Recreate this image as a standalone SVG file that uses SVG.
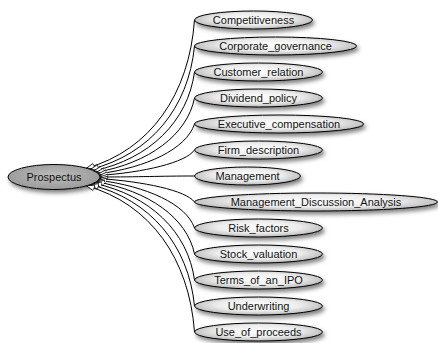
<svg xmlns="http://www.w3.org/2000/svg" width="438" height="343" viewBox="0 0 438 343">
<style>
.n ellipse{stroke:#000;stroke-width:1;filter:url(#sh)}
.leaf ellipse{fill:url(#g)}
.root ellipse{fill:url(#gr)}
text{font-family:"Liberation Sans",Arial,sans-serif;font-size:11px;fill:#111;text-anchor:middle}
.e path{fill:none;stroke:#000;stroke-width:1;marker-start:url(#ah)}
</style>
<defs>
<radialGradient id="g" cx="0.5" cy="0.45" r="0.55">
<stop offset="0" stop-color="#ffffff"/>
<stop offset="0.6" stop-color="#ececec"/>
<stop offset="1" stop-color="#b8b8b8"/>
</radialGradient>
<radialGradient id="gr" cx="0.5" cy="0.45" r="0.55">
<stop offset="0" stop-color="#bdbdbd"/>
<stop offset="1" stop-color="#9a9a9a"/>
</radialGradient>
<filter id="sh" x="-20%" y="-50%" width="140%" height="220%">
<feDropShadow dx="2" dy="3" stdDeviation="2" flood-color="#000" flood-opacity="0.5"/>
</filter>
<marker id="ah" markerUnits="userSpaceOnUse" markerWidth="10" markerHeight="8" refX="8" refY="3" orient="auto-start-reverse">
<path d="M0,0 L8,3 L0,6 z" fill="#fff" stroke="#000" stroke-width="0.8"/>
</marker>
</defs>
<g id="Prospectus" class="n root"><ellipse cx="54" cy="177" rx="46" ry="12.5"/><text x="54" y="181">Prospectus</text></g>
<g id="Competitiveness" class="n leaf"><ellipse cx="253.5" cy="20" rx="59" ry="9"/><text x="253.5" y="24">Competitiveness</text></g>
<g id="Corporate_governance" class="n leaf"><ellipse cx="275.5" cy="46" rx="81" ry="9"/><text x="275.5" y="50">Corporate_governance</text></g>
<g id="Customer_relation" class="n leaf"><ellipse cx="258.5" cy="72" rx="64" ry="9"/><text x="258.5" y="76">Customer_relation</text></g>
<g id="Dividend_policy" class="n leaf"><ellipse cx="258.5" cy="98" rx="64" ry="9"/><text x="258.5" y="102">Dividend_policy</text></g>
<g id="Executive_compensation" class="n leaf"><ellipse cx="279" cy="124" rx="84.5" ry="9"/><text x="279" y="128">Executive_compensation</text></g>
<g id="Firm_description" class="n leaf"><ellipse cx="258.5" cy="150" rx="64" ry="9"/><text x="258.5" y="154">Firm_description</text></g>
<g id="Management" class="n leaf"><ellipse cx="247.5" cy="176" rx="53" ry="9"/><text x="247.5" y="180">Management</text></g>
<g id="Management_Discussion_Analysis" class="n leaf"><ellipse cx="316" cy="202" rx="121.5" ry="9"/><text x="316" y="206">Management_Discussion_Analysis</text></g>
<g id="Risk_factors" class="n leaf"><ellipse cx="258.5" cy="228" rx="64" ry="9"/><text x="258.5" y="232">Risk_factors</text></g>
<g id="Stock_valuation" class="n leaf"><ellipse cx="258.5" cy="254" rx="64" ry="9"/><text x="258.5" y="258">Stock_valuation</text></g>
<g id="Terms_of_an_IPO" class="n leaf"><ellipse cx="258.5" cy="280" rx="64" ry="9"/><text x="258.5" y="284">Terms_of_an_IPO</text></g>
<g id="Underwriting" class="n leaf"><ellipse cx="258.5" cy="306" rx="64" ry="9"/><text x="258.5" y="310">Underwriting</text></g>
<g id="Use_of_proceeds" class="n leaf"><ellipse cx="258.5" cy="332" rx="64" ry="9"/><text x="258.5" y="336">Use_of_proceeds</text></g>
<g id="edges" class="e">
<path d="M86.5,168.2 C150.5,150.2 189.2,94.1 194.5,20"/>
<path d="M90.5,169.4 C150.5,154.4 188.5,107.7 194.5,46"/>
<path d="M93.8,170.8 C149.8,158.8 187.8,121.4 194.5,72"/>
<path d="M96.5,172.2 C148.5,163.2 187.1,135.1 194.5,98"/>
<path d="M98.4,173.8 C146.4,167.8 186.4,148.9 194.5,124"/>
<path d="M99.6,175.4 C143.6,172.4 185.7,162.7 194.5,150"/>
<path d="M100,177 C140,177 160,176 194.5,176"/>
<path d="M99.6,178.6 C143.6,181.6 185.7,190.3 194.5,202"/>
<path d="M98.4,180.2 C146.4,186.2 186.4,204.1 194.5,228"/>
<path d="M96.5,181.8 C148.5,190.8 187.1,217.9 194.5,254"/>
<path d="M93.8,183.2 C149.8,195.2 187.8,231.6 194.5,280"/>
<path d="M90.5,184.6 C150.5,199.6 188.5,245.3 194.5,306"/>
<path d="M86.5,185.8 C150.5,203.8 189.2,258.9 194.5,332"/>
</g>
</svg>
